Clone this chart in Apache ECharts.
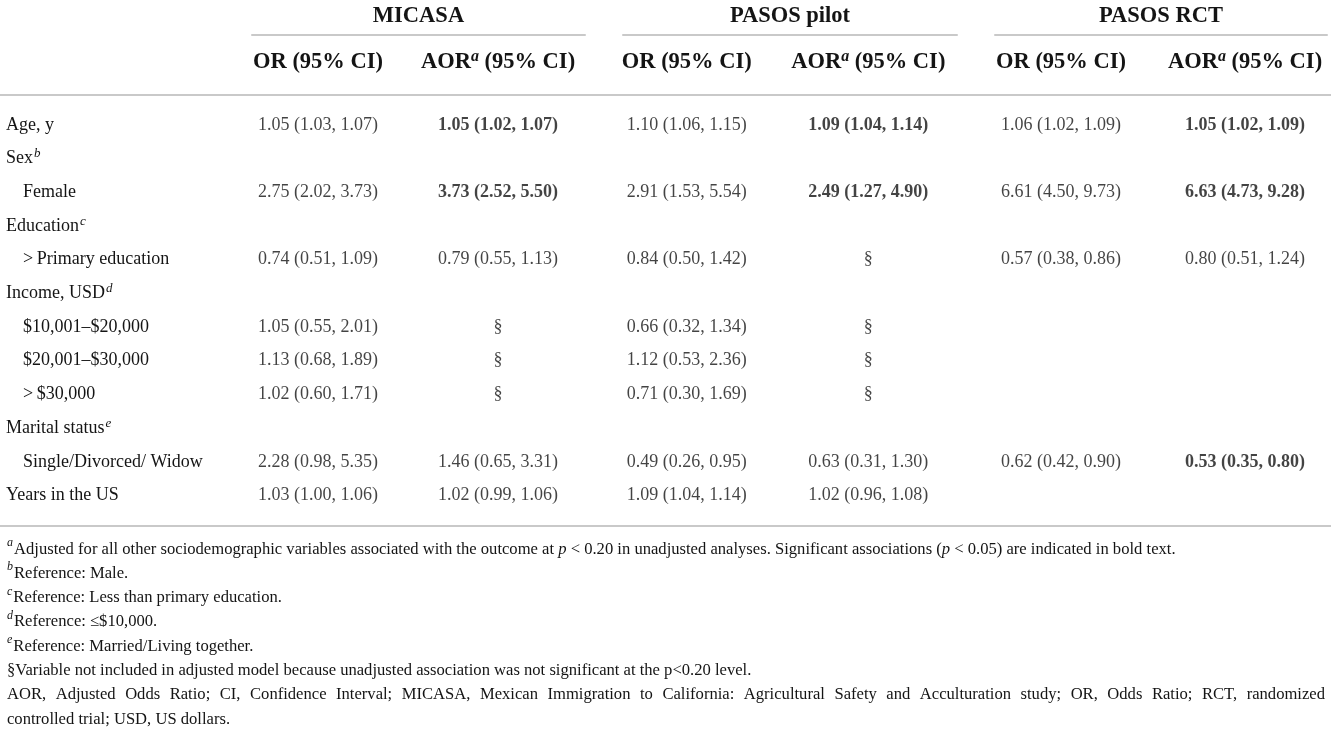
<!DOCTYPE html>
<html>
<head>
<meta charset="utf-8">
<script src="https://cdn.jsdelivr.net/npm/echarts@6/dist/echarts.min.js"></script>
<style>html,body{margin:0;padding:0;background:#fff;}#c{width:1331px;height:731px;}</style>
</head>
<body>
<div id="c"></div>
<script>
// ---------------- data ----------------
const groups = ['MICASA', 'PASOS pilot', 'PASOS RCT'];
const colHeaders = ['OR (95% CI)', 'AOR^a (95% CI)'];
const rowLabels = ['Age, y', 'Sex', 'Female', 'Education', '>\u2009Primary education', 'Income, USD',
  '$10,001\u2013$20,000', '$20,001\u2013$30,000', '>\u2009$30,000', 'Marital status', 'Single/Divorced/ Widow', 'Years in the US'];
const rowSup = ['', 'b', '', 'c', '', 'd', '', '', '', 'e', '', ''];
const rowIndent = [0, 0, 1, 0, 1, 0, 1, 1, 1, 0, 1, 0];

const S = '\u00a7';
const micasaOR  = [[1.05,1.03,1.07], null, [2.75,2.02,3.73], null, [0.74,0.51,1.09], null, [1.05,0.55,2.01], [1.13,0.68,1.89], [1.02,0.60,1.71], null, [2.28,0.98,5.35], [1.03,1.00,1.06]];
const micasaAOR = [[1.05,1.02,1.07], null, [3.73,2.52,5.50], null, [0.79,0.55,1.13], null, S, S, S, null, [1.46,0.65,3.31], [1.02,0.99,1.06]];
const pilotOR   = [[1.10,1.06,1.15], null, [2.91,1.53,5.54], null, [0.84,0.50,1.42], null, [0.66,0.32,1.34], [1.12,0.53,2.36], [0.71,0.30,1.69], null, [0.49,0.26,0.95], [1.09,1.04,1.14]];
const pilotAOR  = [[1.09,1.04,1.14], null, [2.49,1.27,4.90], null, S, null, S, S, S, null, [0.63,0.31,1.30], [1.02,0.96,1.08]];
const rctOR     = [[1.06,1.02,1.09], null, [6.61,4.50,9.73], null, [0.57,0.38,0.86], null, null, null, null, null, [0.62,0.42,0.90], null];
const rctAOR    = [[1.05,1.02,1.09], null, [6.63,4.73,9.28], null, [0.80,0.51,1.24], null, null, null, null, null, [0.53,0.35,0.80], null];
// significant (bold) cells: row indexes in each AOR column
const micasaBold = [0, 2];
const pilotBold  = [0, 2];
const rctBold    = [0, 2, 10];

const footnotes = [
  '{sup|a}Adjusted for all other sociodemographic variables associated with the outcome at {it|p} < 0.20 in unadjusted analyses. Significant associations ({it|p} < 0.05) are indicated in bold text.',
  '{sup|b}Reference: Male.',
  '{sup|c}Reference: Less than primary education.',
  '{sup|d}Reference: \u2264$10,000.',
  '{sup|e}Reference: Married/Living together.',
  '\u00a7Variable not included in adjusted model because unadjusted association was not significant at the p<0.20 level.',
  'AOR, Adjusted Odds Ratio; CI, Confidence Interval; MICASA, Mexican Immigration to California: Agricultural Safety and Acculturation study; OR, Odds Ratio; RCT, randomized',
  'controlled trial; USD, US dollars.'
];

// ---------------- layout / style ----------------
const FONT = '"Liberation Serif", "Times New Roman", serif';
const INK = '#141414';
const RULE = '#c9c9c9';
const BODY_SIZE = 18, HEAD_SIZE = 22.5;
const BODY_TOP = 108, ROW_H = 33.7;
const bodyGrids = [ {left: 228, width: 360}, {left: 596, width: 363}, {left: 969, width: 368} ];
const lineGrids = [ {left: 252, width: 333}, {left: 623, width: 334}, {left: 995, width: 332} ];
const groupOR = [micasaOR, pilotOR, rctOR];
const groupAOR = [micasaAOR, pilotAOR, rctAOR];
const groupBold = [micasaBold, pilotBold, rctBold];

function fmt(v) {
  if (v === S) return S;
  return v[0].toFixed(2) + ' (' + v[1].toFixed(2) + ', ' + v[2].toFixed(2) + ')';
}

const headRich = {
  h: {fontFamily: FONT, fontSize: HEAD_SIZE, fontWeight: 'bold', color: INK, lineHeight: 26},
  sup: {fontFamily: FONT, fontSize: 16, fontWeight: 'bold', fontStyle: 'italic', color: INK, lineHeight: 15, verticalAlign: 'top'}
};
const rowRich = {
  n: {fontFamily: FONT, fontSize: BODY_SIZE, color: INK, lineHeight: 22},
  ind: {fontFamily: FONT, fontSize: BODY_SIZE, color: INK, lineHeight: 22, padding: [0, 0, 0, 17]},
  sup: {fontFamily: FONT, fontSize: 13, fontStyle: 'italic', color: INK, lineHeight: 12, verticalAlign: 'top', padding: [0, 0, 0, 1]}
};

const grid = [], xAxis = [], yAxis = [], series = [];

// body grids (one per study)
groups.forEach((g, gi) => {
  grid.push({left: bodyGrids[gi].left, width: bodyGrids[gi].width, top: BODY_TOP, height: ROW_H * rowLabels.length, containLabel: false, outerBoundsMode: 'none'});
  xAxis.push({
    type: 'category', gridIndex: gi, position: 'top', data: colHeaders,
    axisLine: {show: false}, axisTick: {show: false}, splitLine: {show: false},
    axisLabel: {show: true, interval: 0, margin: 33, rich: headRich,
      formatter: v => '{h|' + v.replace(/\^(\w)/, '}{sup|$1}{h|') + '}'}
  });
  yAxis.push({
    type: 'category', gridIndex: gi, inverse: true, data: rowLabels,
    axisLine: {show: false}, axisTick: {show: false}, splitLine: {show: false},
    axisLabel: gi === 0 ? {
      show: true, interval: 0, align: 'left', margin: bodyGrids[0].left - 6, rich: rowRich,
      formatter: (v, i) => (rowIndent[i] ? '{ind|' : '{n|') + v + '}' + (rowSup[i] ? '{sup|' + rowSup[i] + '}' : '')
    } : {show: false}
  });
  const data = [];
  [groupOR[gi], groupAOR[gi]].forEach((col, ci) => {
    col.forEach((v, ri) => {
      if (v === null) return;
      const bold = ci === 1 && groupBold[gi].indexOf(ri) >= 0;
      data.push({value: [ci, ri], txt: fmt(v), label: {fontWeight: bold ? 'bold' : 'normal'}});
    });
  });
  series.push({
    type: 'scatter', xAxisIndex: gi, yAxisIndex: gi, data: data,
    symbolSize: 1, itemStyle: {color: 'rgba(0,0,0,0)'}, silent: true,
    label: {show: true, position: 'inside', fontFamily: FONT, fontSize: BODY_SIZE, color: INK, formatter: p => p.data.txt}
  });
});

// study header grids (group name + underline)
groups.forEach((g, gi) => {
  const idx = grid.length;
  grid.push({left: lineGrids[gi].left, width: lineGrids[gi].width, top: 35, height: 10, containLabel: false, outerBoundsMode: 'none'});
  xAxis.push({
    type: 'category', gridIndex: idx, position: 'top', data: [g],
    axisLine: {show: true, onZero: false, lineStyle: {color: RULE, width: 2}}, axisTick: {show: false}, splitLine: {show: false},
    axisLabel: {show: true, interval: 0, margin: 7, fontFamily: FONT, fontSize: HEAD_SIZE, fontWeight: 'bold', color: INK}
  });
  yAxis.push({type: 'value', gridIndex: idx, show: false});
});

// frame grid: full-width rules under the column headers and under the body
const fi = grid.length;
grid.push({left: 0, right: 0, top: 95, bottom: 731 - 526, containLabel: false, outerBoundsMode: 'none'});
['top', 'bottom'].forEach(pos => {
  xAxis.push({
    type: 'value', gridIndex: fi, position: pos, min: 0, max: 1,
    axisLine: {show: true, onZero: false, lineStyle: {color: RULE, width: 2}}, axisTick: {show: false},
    axisLabel: {show: false}, splitLine: {show: false}
  });
});
yAxis.push({type: 'value', gridIndex: fi, show: false});

// footnotes, with the long wrapped line justified to the table width
const NOTE_SIZE = 16.6, NOTE_LH = 24.3, NOTE_LEFT = 7, NOTE_RIGHT = 1325;
const noteRich = {
  t: {fontFamily: FONT, fontSize: NOTE_SIZE, color: INK, lineHeight: NOTE_LH},
  it: {fontFamily: FONT, fontSize: NOTE_SIZE, fontStyle: 'italic', color: INK, lineHeight: NOTE_LH},
  sup: {fontFamily: FONT, fontSize: 12, fontStyle: 'italic', color: INK, lineHeight: 14, verticalAlign: 'top', padding: [0, 1, 0, 0]},
  sp: {fontFamily: FONT, fontSize: NOTE_SIZE, color: INK, lineHeight: NOTE_LH}
};
const ctx = document.createElement('canvas').getContext('2d');
ctx.font = NOTE_SIZE + 'px ' + FONT;
const noteLines = footnotes.map((t, i) => {
  if (i !== 6) return t;
  const words = t.split(' ');
  const nat = ctx.measureText(t).width;
  const spW = ctx.measureText(' ').width;
  noteRich.sp.width = spW + (NOTE_RIGHT - NOTE_LEFT - nat) / (words.length - 1);
  return words.join('{sp|\u00a0}');
});

const chart = echarts.init(document.getElementById('c'), null, {renderer: 'canvas'});
chart.setOption({
  backgroundColor: '#ffffff',
  animation: false,
  title: {
    left: NOTE_LEFT, top: 537, padding: 0,
    text: noteLines.join('\n'),
    textStyle: {fontFamily: FONT, fontSize: NOTE_SIZE, fontWeight: 'normal', color: INK, lineHeight: NOTE_LH, rich: noteRich}
  },
  grid: grid, xAxis: xAxis, yAxis: yAxis, series: series
});
</script>
</body>
</html>
